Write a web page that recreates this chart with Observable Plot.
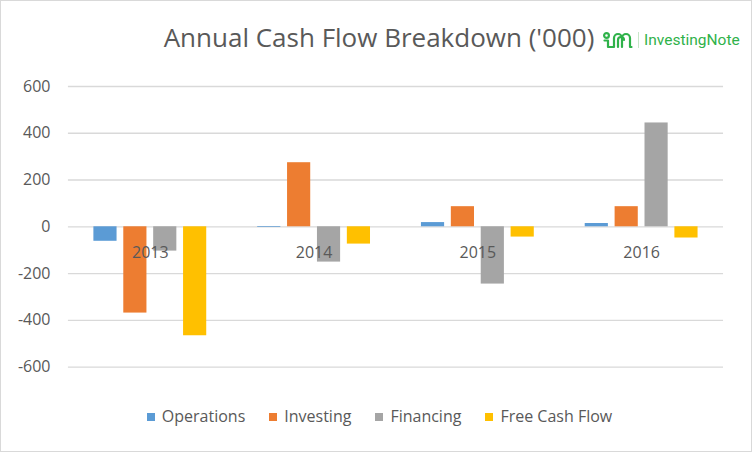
<!DOCTYPE html>
<html><head><meta charset="utf-8">
<script src="https://cdn.jsdelivr.net/npm/d3@7"></script>
<script src="https://cdn.jsdelivr.net/npm/@observablehq/plot@0.6"></script>
<style>
html,body{margin:0;padding:0;background:#fff;}
#chart{position:relative;width:752px;height:452px;box-sizing:border-box;border:1px solid #d9d9d9;overflow:hidden;font-family:"Open Sans",sans-serif;color:#595959;background:#fff;}
#title{position:absolute;left:-1px;width:758px;top:19px;text-align:center;font-size:26px;line-height:34px;white-space:nowrap;}
#logo{position:absolute;left:601px;top:29px;display:flex;align-items:center;height:20px;}
#logo .sep{width:1px;height:16px;background:#c8e6c9;margin:0 5px 0 5px;}
#logo .name{font-family:Roboto,sans-serif;font-size:15.5px;color:#2fb24a;line-height:20px;}
#plot{position:absolute;left:-1px;top:69px;}
#legend{position:absolute;left:-1px;width:759px;top:404px;display:flex;justify-content:center;gap:24px;font-size:16px;line-height:22px;}
#legend .item{display:flex;align-items:center;}
#legend .sw{width:8px;height:8px;margin-right:7px;margin-top:2px;}
</style></head><body>
<div id="chart">
  <div id="title">Annual Cash Flow Breakdown ('000)</div>
  <div id="logo">
    <svg width="31" height="17" viewBox="0 0 31 17">
      <g fill="none" stroke="#2fb24a" stroke-width="2.2" stroke-linecap="round" stroke-linejoin="round">
        <circle cx="4.5" cy="3.5" r="2.4"/>
        <path d="M2.5 8.5 H6 V15 H12 V6 A4 4 0 0 1 20 6 V15"/>
        <path d="M16 15 V8 A3 3 0 0 1 22 8 M20 6 A4 4 0 0 1 28 6 V15 H29.5"/>
      </g>
    </svg>
    <div class="sep"></div>
    <div class="name">InvestingNote</div>
  </div>
  <div id="plot"></div>
  <div id="legend"></div>
</div>
<script>
const years = ["2013", "2014", "2015", "2016"];
const seriesNames = ["Operations", "Investing", "Financing", "Free Cash Flow"];
const operations = [-62, -3, 18, 14];
const investing = [-369, 274, 86, 86];
const financing = [-104, -151, -245, 444];
const freeCashFlow = [-466, -74, -44, -48];
const colors = ["#5b9bd5", "#ed7d31", "#a5a5a5", "#ffc000"];
const yTicks = [-600, -400, -200, 0, 200, 400, 600];

const seriesValues = [operations, investing, financing, freeCashFlow];
const rows = seriesNames.map((name, i) => years.map((year, j) => ({year, series: name, value: seriesValues[i][j]})));

const W = 752, H = 320, mL = 68, mR = 28;
const pIn = 0.311;
const step = (W - mL - mR) / years.length;
const bandW = step * (1 - pIn);
const subPad = 0.225;
const subStep = bandW / (seriesNames.length - subPad);
const barW = subStep * (1 - subPad);

const barMarks = rows.map((data, i) => Plot.barY(data, {
  x: "year", y: "value", fill: colors[i],
  insetLeft: i * subStep,
  insetRight: bandW - i * subStep - barW
}));

const chart = Plot.plot({
  width: W, height: H,
  marginLeft: mL, marginRight: mR, marginTop: 16, marginBottom: 23,
  style: {fontFamily: "'Open Sans', sans-serif", fontSize: "16px", color: "#595959", background: "transparent", overflow: "visible"},
  x: {type: "band", domain: years, paddingInner: pIn, paddingOuter: pIn / 2, round: false, axis: null},
  y: {domain: [-600, 600], axis: null},
  marks: [
    Plot.ruleY(yTicks, {stroke: "#d9d9d9", strokeWidth: 1.3}),
    ...barMarks,
    Plot.text(years, {x: d => d, y: () => 0, dy: 26, fill: "#595959", fontSize: 16}),
    Plot.axisY({ticks: yTicks, tickSize: 0, tickPadding: 18, tickFormat: d => String(d), fill: "#595959", fontSize: 16, label: null})
  ]
});
document.getElementById("plot").appendChild(chart);

const legend = document.getElementById("legend");
seriesNames.forEach((name, i) => {
  const item = document.createElement("div");
  item.className = "item";
  const sw = document.createElement("div");
  sw.className = "sw";
  sw.style.background = colors[i];
  const label = document.createElement("span");
  label.textContent = name;
  item.appendChild(sw);
  item.appendChild(label);
  legend.appendChild(item);
});
</script>
</body></html>
